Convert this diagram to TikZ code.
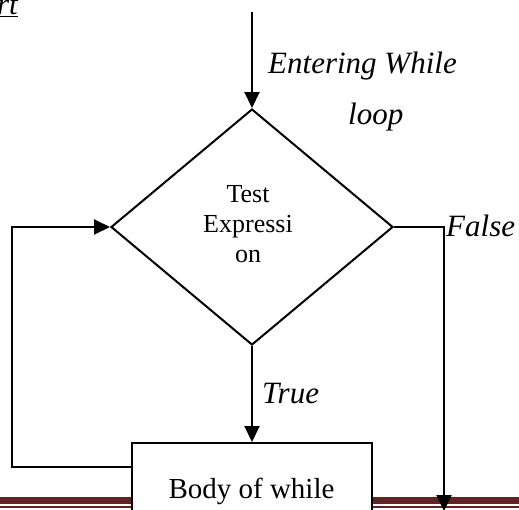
\documentclass[tikz,border=0pt]{standalone}
\usepackage{fontspec}
\setmainfont{Liberation Serif}
\usetikzlibrary{arrows.meta,shapes.geometric,calc}
\definecolor{barred}{HTML}{622423}
\tikzset{
  flow/.style={line width=2pt, line join=miter},
  tip/.style={-{Triangle[length=16pt,width=15pt]}},
  lbl/.style={inner sep=0pt, anchor=base west, font=\itshape\fontsize{31}{36}\selectfont},
  box/.style={draw, line width=2pt, fill=white, inner sep=0pt},
}
\begin{document}
\begin{tikzpicture}[x=1pt, y=-1pt]
  % page frame and clipping
  \useasboundingbox (0,0) rectangle (519,509);
  \clip (0,0) rectangle (519,509);

  % footer rule of the page
  \fill[barred] (0,497) rectangle (519,504);
  \fill[barred] (0,506) rectangle (519,507.5);

  % heading fragment
  \node[lbl, anchor=base east] (head) at (18,14) {\underline{rt}};

  % decision and body
  \node[box, diamond, minimum width=282pt, minimum height=236pt] (test) at (252,227) {};
  \node[inner sep=0pt, align=center, font=\fontsize{26}{30}\selectfont, anchor=base] (testtxt) at (248,262)
    {Test\\Expressi\\on};
  \node[box, rectangle, minimum width=240pt, minimum height=100pt] (body) at (252,493) {};
  \node[inner sep=0pt, anchor=base, font=\fontsize{29}{34}\selectfont] (bodytxt) at (251.5,498) {Body of while};

  % helper points
  \coordinate (start) at (252,12);
  \coordinate (lc) at (12,467);
  \coordinate (fend) at (444,511);

  % connectors
  \draw[flow, tip] (start) -- (test.north);
  \draw[flow, tip] (test.south) -- (body.north);
  \draw[flow, tip] (body.west |- lc) -- (lc) |- (test.west);
  \draw[flow, tip] (test.east) -| (fend);

  % labels
  \node[lbl] (enter1) at (268,73) {Entering While};
  \node[lbl] (enter2) at (348,124) {loop};
  \node[lbl] (true) at (262,403) {True};
  \node[lbl] (false) at (446,236) {False};
\end{tikzpicture}
\end{document}
